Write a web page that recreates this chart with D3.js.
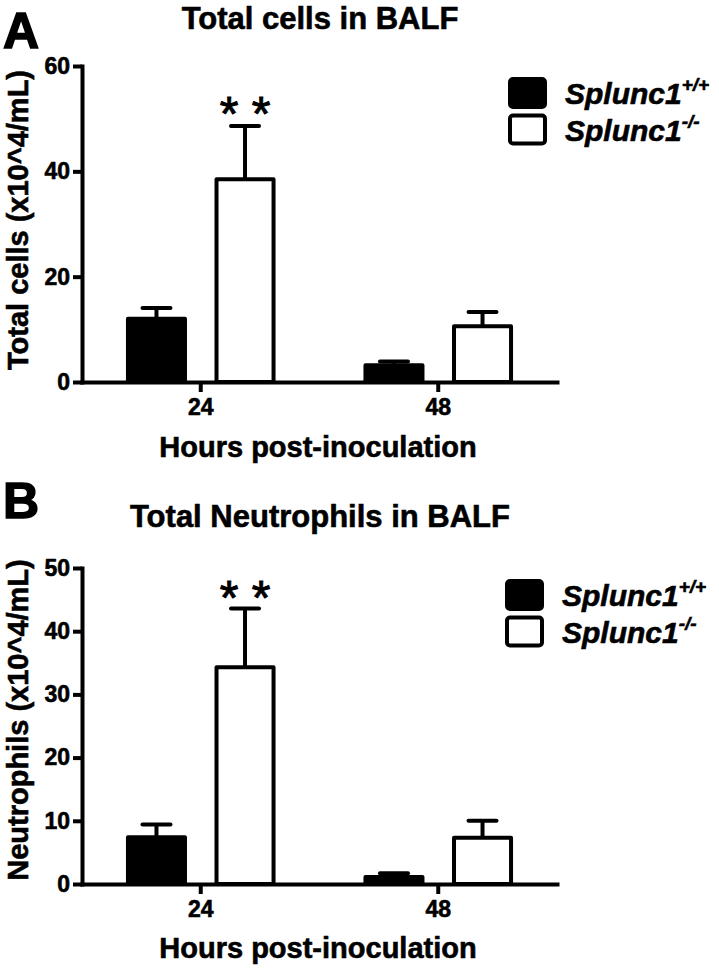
<!DOCTYPE html>
<html><head><meta charset="utf-8">
<script src="https://cdn.jsdelivr.net/npm/d3@7"></script>
<style>
body{margin:0;background:#fff}
text{font-family:"Liberation Sans",Arial,Helvetica,sans-serif;fill:#000}
.heavy{stroke:#000;stroke-width:0.6px}
</style>
</head><body>
<svg id="c" width="719" height="970"></svg>
<script>
// ---- data ----
const groups = ["24", "48"];
const seriesNames = ["Splunc1", "Splunc1"];
const seriesSup = ["+/+", "-/-"];
const seriesFill = ["#000", "#fff"];

const cellsWT = [12.0, 3.2];
const cellsWTErr = [2.05, 0.7];
const cellsKO = [38.5, 10.6];
const cellsKOErr = [10.1, 2.7];
const cellsSig = ["**", ""];
const cellsTicks = [0, 20, 40, 60];

const neutWT = [7.4, 1.1];
const neutWTErr = [2.0, 0.6];
const neutKO = [34.3, 7.3];
const neutKOErr = [9.3, 2.7];
const neutSig = ["**", ""];
const neutTicks = [0, 10, 20, 30, 40, 50];

const panelLetters = ["A", "B"];
const titles = ["Total cells in BALF", "Total Neutrophils in BALF"];
const yTitles = ["Total cells (x10^4/mL)", "Neutrophils (x10^4/mL)"];
const xTitle = "Hours post-inoculation";

const svg = d3.select("#c");

function drawPanel(p) {
  const g = svg.append("g");
  const y = d3.scaleLinear().domain([0, p.max]).range([p.y0, p.yTop]);
  const x0 = d3.scaleBand().domain(groups).range([82, 557])
    .paddingInner(0.387).paddingOuter(0.1935);
  const x1 = d3.scaleBand().domain([0, 1]).range([0, x0.bandwidth()]).paddingInner(0.356);
  const series = [p.wt, p.ko];
  const errs = [p.wtErr, p.koErr];

  // bars
  series.forEach((vals, si) => {
    g.selectAll(null).data(vals).enter().append("rect")
      .attr("x", (d, i) => x0(groups[i]) + x1(si))
      .attr("y", d => y(d))
      .attr("width", x1.bandwidth())
      .attr("height", d => y(0) - y(d))
      .attr("fill", seriesFill[si])
      .attr("stroke", "#000").attr("stroke-width", 4)
      .attr("stroke-linejoin", "round");
  });
  // error bars
  const capW = 28;
  series.forEach((vals, si) => {
    vals.forEach((v, i) => {
      const cx = x0(groups[i]) + x1(si) + x1.bandwidth() / 2;
      const top = y(v + errs[si][i]);
      g.append("line").attr("x1", cx).attr("x2", cx).attr("y1", y(v)).attr("y2", top)
        .attr("stroke", "#000").attr("stroke-width", 4);
      g.append("line").attr("x1", cx - capW / 2).attr("x2", cx + capW / 2)
        .attr("y1", top).attr("y2", top)
        .attr("stroke", "#000").attr("stroke-width", 4).attr("stroke-linecap", "round");
    });
  });
  // significance
  p.sig.forEach((s, i) => {
    if (!s) return;
    const cx = x0(groups[i]) + x1(1) + x1.bandwidth() / 2;
    const top = y(p.ko[i] + p.koErr[i]);
    s.split("").forEach((ch, k) => {
      g.append("text").attr("x", cx + (k - (s.length - 1) / 2) * 32)
        .attr("y", top + p.sigOff)
        .attr("text-anchor", "middle").attr("font-size", 48)
        .attr("class", "heavy").style("stroke-width", "1px").text(ch);
    });
  });

  // axes
  const ya = g.append("g").attr("transform", "translate(82,0)")
    .call(d3.axisLeft(y).tickValues(p.ticks).tickSize(9).tickSizeOuter(0).tickPadding(3));
  const xa = g.append("g").attr("transform", `translate(0,${p.y0})`)
    .call(d3.axisBottom(x0).tickSize(10).tickSizeOuter(0).tickPadding(7));
  [ya, xa].forEach(a => {
    a.select(".domain").attr("stroke", "#000").attr("stroke-width", 4).attr("stroke-linecap", "square");
    a.selectAll(".tick line").attr("stroke", "#000").attr("stroke-width", 4);
    a.selectAll(".tick text").attr("font-size", 23).attr("font-weight", "bold")
      .attr("font-family", "Liberation Sans, Arial, sans-serif").attr("fill", "#000")
      .attr("class", "heavy");
  });

  // titles
  g.append("text").attr("x", 320).attr("y", p.titleY).attr("text-anchor", "middle")
    .attr("font-size", 31).attr("font-weight", "bold").attr("class", "heavy").text(p.title);
  g.append("text").attr("x", 3).attr("y", p.letterY)
    .attr("font-size", 50).attr("font-weight", "bold").attr("class", "heavy")
    .style("stroke-width", "1.5px").text(p.letter);
  g.append("text").attr("x", 318).attr("y", p.xTitleY).attr("text-anchor", "middle")
    .attr("font-size", 29).attr("font-weight", "bold").attr("class", "heavy").text(xTitle);
  g.append("text").attr("transform", `translate(28,${p.yTitleC}) rotate(-90)`)
    .attr("text-anchor", "middle").attr("font-size", 29).attr("font-weight", "bold")
    .attr("class", "heavy").text(p.yTitle);

  // legend
  seriesNames.forEach((n, si) => {
    const ly = p.legY + si * 36.5;
    g.append("rect").attr("x", p.legX).attr("y", ly).attr("width", 35).attr("height", 28)
      .attr("rx", 3).attr("fill", seriesFill[si]).attr("stroke", "#000").attr("stroke-width", 4);
    const t = g.append("text").attr("x", p.legX + 55).attr("y", ly + 25)
      .attr("font-size", 30).attr("font-weight", "bold").attr("font-style", "italic")
      .attr("class", "heavy");
    t.append("tspan").text(n);
    t.append("tspan").attr("dy", -13).attr("font-size", 19).text(seriesSup[si]);
  });
}

drawPanel({
  max: 60, ticks: cellsTicks, y0: 382, yTop: 66,
  wt: cellsWT, wtErr: cellsWTErr, ko: cellsKO, koErr: cellsKOErr, sig: cellsSig, sigOff: 4,
  title: titles[0], titleY: 29, letter: panelLetters[0], letterY: 48,
  xTitleY: 457, yTitle: yTitles[0], yTitleC: 220, legX: 510, legY: 79
});
drawPanel({
  max: 50, ticks: neutTicks, y0: 884, yTop: 568,
  wt: neutWT, wtErr: neutWTErr, ko: neutKO, koErr: neutKOErr, sig: neutSig, sigOff: 6,
  title: titles[1], titleY: 527, letter: panelLetters[1], letterY: 518,
  xTitleY: 958, yTitle: yTitles[1], yTitleC: 720, legX: 507, legY: 581
});
</script>
</body></html>
